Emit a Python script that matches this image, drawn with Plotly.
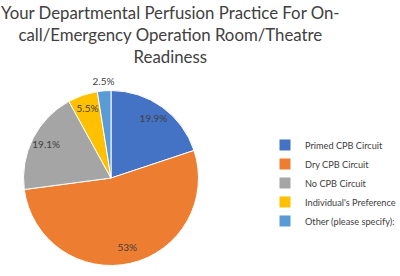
import plotly.graph_objects as go

categories = ["Primed CPB Circuit", "Dry CPB Circuit", "No CPB Circuit",
              "Individual's Preference", "Other (please specify):"]
values = [19.9, 53.0, 19.1, 5.5, 2.5]
text_labels = ["19.9%", "53%", "19.1%", "5.5%", "2.5%"]
colors = ["#4472C4", "#ED7D31", "#A5A5A5", "#FFC000", "#5B9BD5"]
title_text = "Your Departmental Perfusion Practice For On-<br>call/Emergency Operation Room/Theatre<br>Readiness"

dom = dict(x=[0.0325, 0.5225], y=[0.0, 0.710])

# slice angles (clockwise from 12 o'clock), derived from the values
total = sum(values)
mids, widths, cum = [], [], 0.0
for v in values:
    mids.append((cum + v / 2) / total * 360)
    widths.append(v / total * 360)
    cum += v
label_r = [0.83 if v > 3 else 1.09 for v in values]

fig = go.Figure()
for name, th, w, c in zip(categories, mids, widths, colors):
    fig.add_trace(go.Barpolar(
        r=[1], theta=[th], width=[w], name=name,
        marker=dict(color=c, line=dict(color="white", width=1)),
        hovertemplate=name + "<extra></extra>",
    ))
fig.add_trace(go.Scatterpolar(
    r=label_r, theta=mids, text=text_labels, mode="text",
    textfont=dict(family="Lato", size=10, color="#404040"),
    showlegend=False, hoverinfo="skip", cliponaxis=False,
))

fig.update_layout(
    width=400, height=276,
    margin=dict(l=0, r=0, t=0, b=0, autoexpand=False),
    paper_bgcolor="white",
    plot_bgcolor="white",
    polar=dict(
        domain=dom,
        bgcolor="rgba(0,0,0,0)",
        bargap=0,
        radialaxis=dict(range=[0, 1.12], visible=False),
        angularaxis=dict(rotation=90, direction="clockwise", visible=False),
    ),
    annotations=[dict(
        text=title_text, showarrow=False,
        xref="paper", yref="paper", x=0.425, y=1.0,
        xanchor="center", yanchor="top", align="center",
        font=dict(family="Lato", size=16.8, color="#404040"),
    )],
    legend=dict(
        xref="container", yref="container",
        x=0.6625, y=0.337, xanchor="left", yanchor="middle",
        font=dict(family="Lato", size=9.2, color="#404040"),
        bgcolor="rgba(0,0,0,0)",
        itemwidth=30,
        traceorder="normal",
    ),
)

fig.write_html("out.html")
